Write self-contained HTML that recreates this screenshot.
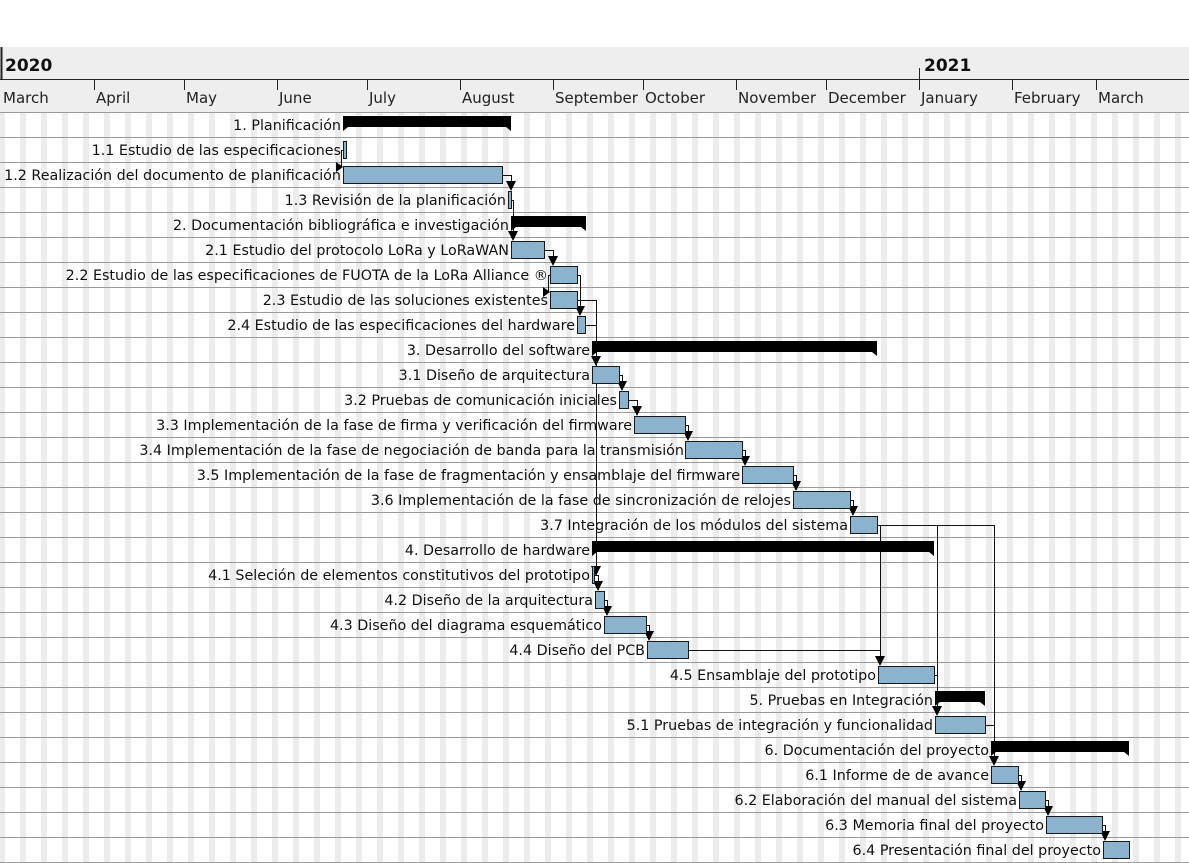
<!DOCTYPE html>
<html><head><meta charset="utf-8"><style>
html,body{margin:0;padding:0;background:#fff;width:1189px;height:863px;overflow:hidden}
svg{display:block}
text{font-family:"DejaVu Sans","Liberation Sans",sans-serif}
</style></head><body>
<svg width="1189" height="863" viewBox="0 0 1189 863" xmlns="http://www.w3.org/2000/svg">
<defs>
<pattern id="wk" x="-1" y="0" width="21" height="10" patternUnits="userSpaceOnUse">
<rect x="0" y="0" width="6" height="10" fill="#ececec"/>
</pattern>
</defs>
<rect x="0" y="47" width="1189" height="65" fill="#eeeeee"/>
<rect x="0" y="112" width="1189" height="751" fill="url(#wk)"/>
<line x1="0" y1="79.5" x2="1189" y2="79.5" stroke="#222" stroke-width="1"/>
<line x1="1.5" y1="47" x2="1.5" y2="80" stroke="#222" stroke-width="2"/>
<line x1="919.5" y1="68" x2="919.5" y2="80" stroke="#222"/>
<g stroke="#222">
<line x1="94.5" y1="80" x2="94.5" y2="90"/><line x1="184.5" y1="80" x2="184.5" y2="90"/>
<line x1="277.5" y1="80" x2="277.5" y2="90"/><line x1="367.5" y1="80" x2="367.5" y2="90"/>
<line x1="460.5" y1="80" x2="460.5" y2="90"/><line x1="553.5" y1="80" x2="553.5" y2="90"/>
<line x1="643.5" y1="80" x2="643.5" y2="90"/><line x1="736.5" y1="80" x2="736.5" y2="90"/>
<line x1="826.5" y1="80" x2="826.5" y2="90"/><line x1="919.5" y1="80" x2="919.5" y2="90"/>
<line x1="1012.5" y1="80" x2="1012.5" y2="90"/><line x1="1096.5" y1="80" x2="1096.5" y2="90"/>
</g>
<g font-size="17" font-weight="bold" fill="#111">
<text x="5" y="71">2020</text><text x="924" y="71">2021</text>
</g>
<g font-size="15" fill="#222">
<text x="3" y="103">March</text><text x="96" y="103">April</text><text x="186" y="103">May</text>
<text x="279" y="103">June</text><text x="369" y="103">July</text><text x="462" y="103">August</text>
<text x="555" y="103">September</text><text x="645" y="103">October</text><text x="738" y="103">November</text>
<text x="828" y="103">December</text><text x="921" y="103">January</text><text x="1014" y="103">February</text>
<text x="1098" y="103">March</text>
</g>
<g stroke="#9a9a9a" stroke-width="1">
<line x1="0" x2="1189" y1="112.5" y2="112.5"/><line x1="0" x2="1189" y1="137.5" y2="137.5"/>
<line x1="0" x2="1189" y1="162.5" y2="162.5"/><line x1="0" x2="1189" y1="187.5" y2="187.5"/>
<line x1="0" x2="1189" y1="212.5" y2="212.5"/><line x1="0" x2="1189" y1="237.5" y2="237.5"/>
<line x1="0" x2="1189" y1="262.5" y2="262.5"/><line x1="0" x2="1189" y1="287.5" y2="287.5"/>
<line x1="0" x2="1189" y1="312.5" y2="312.5"/><line x1="0" x2="1189" y1="337.5" y2="337.5"/>
<line x1="0" x2="1189" y1="362.5" y2="362.5"/><line x1="0" x2="1189" y1="387.5" y2="387.5"/>
<line x1="0" x2="1189" y1="412.5" y2="412.5"/><line x1="0" x2="1189" y1="437.5" y2="437.5"/>
<line x1="0" x2="1189" y1="462.5" y2="462.5"/><line x1="0" x2="1189" y1="487.5" y2="487.5"/>
<line x1="0" x2="1189" y1="512.5" y2="512.5"/><line x1="0" x2="1189" y1="537.5" y2="537.5"/>
<line x1="0" x2="1189" y1="562.5" y2="562.5"/><line x1="0" x2="1189" y1="587.5" y2="587.5"/>
<line x1="0" x2="1189" y1="612.5" y2="612.5"/><line x1="0" x2="1189" y1="637.5" y2="637.5"/>
<line x1="0" x2="1189" y1="662.5" y2="662.5"/><line x1="0" x2="1189" y1="687.5" y2="687.5"/>
<line x1="0" x2="1189" y1="712.5" y2="712.5"/><line x1="0" x2="1189" y1="737.5" y2="737.5"/>
<line x1="0" x2="1189" y1="762.5" y2="762.5"/><line x1="0" x2="1189" y1="787.5" y2="787.5"/>
<line x1="0" x2="1189" y1="812.5" y2="812.5"/><line x1="0" x2="1189" y1="837.5" y2="837.5"/>
<line x1="0" x2="1189" y1="862.5" y2="862.5"/>
</g>
<g stroke="#111" stroke-width="1" fill="none">
<polyline points="345,150.5 341.5,150.5 341.5,167"/>
<polyline points="503,175.5 511.5,175.5 511.5,182"/>
<polyline points="510,200.5 513.5,200.5 513.5,232"/>
<polyline points="545,250.5 553.5,250.5 553.5,257"/>
<polyline points="550,275.5 548.5,275.5 548.5,292"/>
<polyline points="578,275.5 580.5,275.5 580.5,307"/>
<polyline points="578,300.5 596.5,300.5 596.5,567"/>
<polyline points="586,325.5 596.5,325.5"/>
<polyline points="620,375.5 622.5,375.5 622.5,382"/>
<polyline points="629,400.5 637.5,400.5 637.5,407"/>
<polyline points="686,425.5 688.5,425.5 688.5,432"/>
<polyline points="743,450.5 745.5,450.5 745.5,457"/>
<polyline points="794,475.5 796.5,475.5 796.5,482"/>
<polyline points="851,500.5 853.5,500.5 853.5,507"/>
<polyline points="878,525.5 994.5,525.5 994.5,757"/>
<polyline points="880.5,525.5 880.5,657"/>
<polyline points="937.5,525.5 937.5,707"/>
<polyline points="595,575.5 598.5,575.5 598.5,582"/>
<polyline points="605,600.5 607.5,600.5 607.5,607"/>
<polyline points="647,625.5 649.5,625.5 649.5,632"/>
<polyline points="689,650.5 880.5,650.5"/>
<polyline points="935,675.5 938,675.5"/>
<polyline points="986,725.5 994.5,725.5"/>
<polyline points="1019,775.5 1021.5,775.5 1021.5,782"/>
<polyline points="1046,800.5 1048.5,800.5 1048.5,807"/>
<polyline points="1103,825.5 1105.5,825.5 1105.5,832"/>
</g>
<g fill="#000">
<polygon points="336,162 343,167 336,172"/>
<polygon points="506,181 516,181 511,191"/>
<polygon points="508,231 518,231 513,241"/>
<polygon points="548,256 558,256 553,266"/>
<polygon points="543,287 550,292 543,297"/>
<polygon points="575,306 585,306 580,316"/>
<polygon points="591,356 601,356 596,366"/>
<polygon points="617,381 627,381 622,391"/>
<polygon points="632,406 642,406 637,416"/>
<polygon points="683,431 693,431 688,441"/>
<polygon points="740,456 750,456 745,466"/>
<polygon points="791,481 801,481 796,491"/>
<polygon points="848,506 858,506 853,516"/>
<polygon points="591,566 601,566 596,576"/>
<polygon points="593,581 603,581 598,591"/>
<polygon points="602,606 612,606 607,616"/>
<polygon points="644,631 654,631 649,641"/>
<polygon points="875,656 885,656 880,666"/>
<polygon points="932,706 942,706 937,716"/>
<polygon points="989,756 999,756 994,766"/>
<polygon points="1016,781 1026,781 1021,791"/>
<polygon points="1043,806 1053,806 1048,816"/>
<polygon points="1100,831 1110,831 1105,841"/>
</g>
<g fill="#000">
<polygon points="343,116 511,116 511,131 506,127 348,127 343,131"/>
<polygon points="511,216 586,216 586,231 581,227 516,227 511,231"/>
<polygon points="592,341 877,341 877,356 872,352 597,352 592,356"/>
<polygon points="592,541 934,541 934,556 929,552 597,552 592,556"/>
<polygon points="935,691 985,691 985,706 980,702 940,702 935,706"/>
<polygon points="991,741 1129,741 1129,756 1124,752 996,752 991,756"/>
</g>
<g fill="#8cb3cd" stroke="#1a1a1a" stroke-width="1">
<rect x="343.5" y="141.5" width="3" height="17"/>
<rect x="343.5" y="166.5" width="159" height="17"/>
<rect x="508.5" y="191.5" width="3" height="17"/>
<rect x="511.5" y="241.5" width="33" height="17"/>
<rect x="550.5" y="266.5" width="27" height="17"/>
<rect x="550.5" y="291.5" width="27" height="17"/>
<rect x="577.5" y="316.5" width="8" height="17"/>
<rect x="592.5" y="366.5" width="27" height="17"/>
<rect x="619.5" y="391.5" width="9" height="17"/>
<rect x="634.5" y="416.5" width="51" height="17"/>
<rect x="685.5" y="441.5" width="57" height="17"/>
<rect x="742.5" y="466.5" width="51" height="17"/>
<rect x="793.5" y="491.5" width="57" height="17"/>
<rect x="850.5" y="516.5" width="27" height="17"/>
<rect x="592.5" y="566.5" width="2" height="17"/>
<rect x="595.5" y="591.5" width="9" height="17"/>
<rect x="604.5" y="616.5" width="42" height="17"/>
<rect x="647.5" y="641.5" width="41" height="17"/>
<rect x="878.5" y="666.5" width="56" height="17"/>
<rect x="935.5" y="716.5" width="50" height="17"/>
<rect x="991.5" y="766.5" width="27" height="17"/>
<rect x="1019.5" y="791.5" width="26" height="17"/>
<rect x="1046.5" y="816.5" width="56" height="17"/>
<rect x="1103.5" y="841.5" width="26" height="17"/>
</g>
<g font-size="14.3" fill="#111" text-anchor="end">
<text x="341" y="130">1. Planificación</text>
<text x="341" y="155">1.1 Estudio de las especificaciones</text>
<text x="341" y="180">1.2 Realización del documento de planificación</text>
<text x="506" y="205">1.3 Revisión de la planificación</text>
<text x="509" y="230">2. Documentación bibliográfica e investigación</text>
<text x="509" y="255">2.1 Estudio del protocolo LoRa y LoRaWAN</text>
<text x="548" y="280">2.2 Estudio de las especificaciones de FUOTA de la LoRa Alliance ®</text>
<text x="548" y="305">2.3 Estudio de las soluciones existentes</text>
<text x="575" y="330">2.4 Estudio de las especificaciones del hardware</text>
<text x="590" y="355">3. Desarrollo del software</text>
<text x="590" y="380">3.1 Diseño de arquitectura</text>
<text x="617" y="405">3.2 Pruebas de comunicación iniciales</text>
<text x="632" y="430">3.3 Implementación de la fase de firma y verificación del firmware</text>
<text x="684" y="455">3.4 Implementación de la fase de negociación de banda para la transmisión</text>
<text x="740" y="480">3.5 Implementación de la fase de fragmentación y ensamblaje del firmware</text>
<text x="791" y="505">3.6 Implementación de la fase de sincronización de relojes</text>
<text x="848" y="530">3.7 Integración de los módulos del sistema</text>
<text x="590" y="555">4. Desarrollo de hardware</text>
<text x="590" y="580">4.1 Seleción de elementos constitutivos del prototipo</text>
<text x="593" y="605">4.2 Diseño de la arquitectura</text>
<text x="602" y="630">4.3 Diseño del diagrama esquemático</text>
<text x="645" y="655">4.4 Diseño del PCB</text>
<text x="876" y="680">4.5 Ensamblaje del prototipo</text>
<text x="933" y="705">5. Pruebas en Integración</text>
<text x="933" y="730">5.1 Pruebas de integración y funcionalidad</text>
<text x="989" y="755">6. Documentación del proyecto</text>
<text x="989" y="780">6.1 Informe de de avance</text>
<text x="1017" y="805">6.2 Elaboración del manual del sistema</text>
<text x="1044" y="830">6.3 Memoria final del proyecto</text>
<text x="1101" y="855">6.4 Presentación final del proyecto</text>
</g>
</svg>
</body></html>
